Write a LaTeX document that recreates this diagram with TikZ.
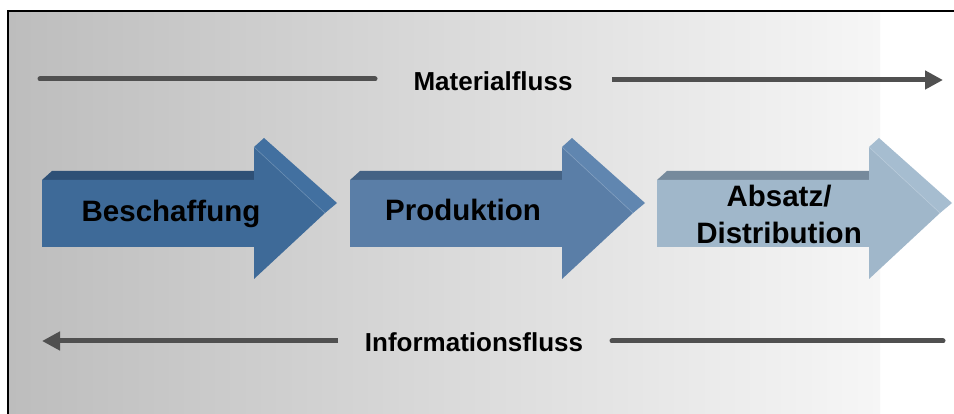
\documentclass[tikz,border=0pt]{standalone}
\usepackage{fontspec}
\setmainfont{Liberation Sans}
\usetikzlibrary{arrows.meta}
\definecolor{frontA}{RGB}{62,106,152}
\definecolor{topA}{RGB}{46,80,118}
\definecolor{sideA}{RGB}{66,112,160}
\definecolor{frontB}{RGB}{90,126,167}
\definecolor{topB}{RGB}{68,98,132}
\definecolor{sideB}{RGB}{96,134,176}
\definecolor{frontC}{RGB}{160,183,202}
\definecolor{topC}{RGB}{118,138,156}
\definecolor{sideC}{RGB}{166,189,208}
\definecolor{flowgray}{RGB}{80,80,80}
\definecolor{bgleft}{RGB}{189,189,189}
\definecolor{bgright}{RGB}{246,246,246}
\tikzset{
  steplabel/.style={font=\bfseries\fontsize{29.5}{37}\selectfont, text=black, inner sep=0pt, anchor=base, align=center},
  flowlabel/.style={font=\bfseries\fontsize{26}{30}\selectfont, text=black, inner sep=0pt, anchor=base},
  flowline/.style={draw=flowgray, line width=5pt},
  edgeline/.style={draw=black, line width=2pt}
}
% 3D arrow: #1 left x, #2 front, #3 top, #4 side
\newcommand{\blockarrow}[4]{%
  \begin{scope}[shift={(#1,0)}]
    % top face of body
    \fill[#3] (0,180) -- (10,171) -- (222,171) -- (212,180) -- cycle;
    % upper slant face of head
    \fill[#4] (212,147) -- (222,138) -- (295,203) -- (283,213) -- cycle;
    % front face
    \fill[#2] (0,180) -- (212,180) -- (212,147) -- (283,213) -- (212,279) -- (212,247) -- (0,247) -- cycle;
    % highlight edge
    \draw[#4!80!white, line width=0.6pt] (212,147) -- (283,213);
  \end{scope}}
\begin{document}
\begin{tikzpicture}[x=1pt,y=-1pt]
\useasboundingbox (0,0) rectangle (954,414);
\fill[white] (0,0) rectangle (954,414);
\shade[left color=bgleft, right color=bgright] (8,11) rectangle (880,414);
\draw[edgeline] (8,420) -- (8,11) -- (960,11);

% arrows
\blockarrow{42}{frontA}{topA}{sideA}
\blockarrow{350}{frontB}{topB}{sideB}
\blockarrow{657}{frontC}{topC}{sideC}

\node[steplabel] (besch) at (171,222) {Beschaffung};
\node[steplabel] (prod) at (463,221) {Produktion};
\node[steplabel] (absatz) at (779,244) {Absatz/\\Distribution};

% flows
\node[flowlabel] (mat) at (493,91) {Materialfluss};
\node[flowlabel] (info) at (474,352) {Informationsfluss};

\coordinate (m1) at (40,79);
\coordinate (m2) at (375,79);
\coordinate (m3) at (612,80);
\coordinate (m4) at (943,80);
\draw[flowline, line cap=round] (m1) -- (m2);
\draw[flowline, -{Triangle[length=18pt,width=18pt]}] (m3) -- (m4);

\coordinate (i1) at (338,341);
\coordinate (i2) at (42,341);
\coordinate (i3) at (612,341);
\coordinate (i4) at (943,341);
\draw[flowline, -{Triangle[length=18pt,width=18pt]}] (i1) -- (i2);
\draw[flowline, line cap=round] (i3) -- (i4);
\end{tikzpicture}
\end{document}
